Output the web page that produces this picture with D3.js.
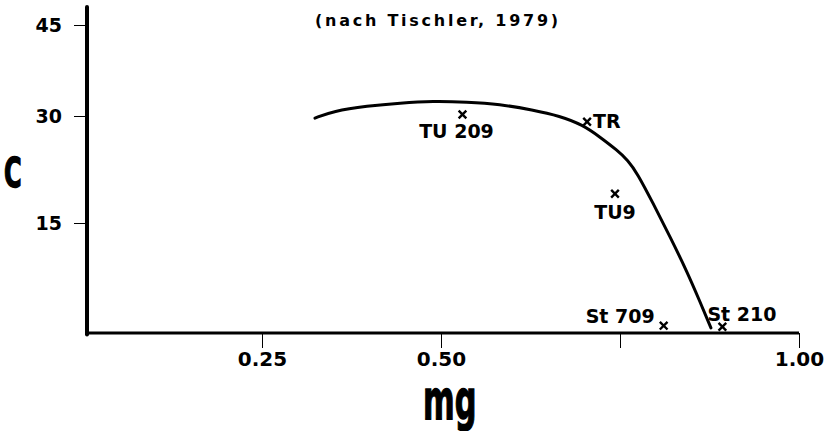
<!DOCTYPE html>
<html>
<head>
<meta charset="utf-8">
<script src="https://cdn.jsdelivr.net/npm/d3@7/dist/d3.min.js"></script>
<style>
  html, body { margin: 0; padding: 0; background: #fff; }
  svg { display: block; }
  text { font-family: "DejaVu Sans", "Liberation Sans", sans-serif; font-weight: bold; fill: #000; }
</style>
</head>
<body>
<svg width="829" height="431"></svg>
<script>
// curve (mg, C)
const curveMg = [0.324, 0.349, 0.397, 0.443, 0.489, 0.536, 0.582, 0.628, 0.666, 0.698, 0.722, 0.746, 0.761, 0.774, 0.796, 0.820, 0.844, 0.862, 0.877];
const curveC  = [29.7, 30.8, 31.65, 32.15, 32.45, 32.3, 31.95, 31.0, 30.0, 28.75, 27.05, 25.2, 23.8, 22.0, 17.8, 13.1, 8.3, 4.2, 0.7];

// measured samples
const sampleNames = ["TU 209", "TR", "TU9", "St 709", "St 210"];
const sampleMg    = [0.530, 0.704, 0.743, 0.811, 0.893];
const sampleC     = [30.25, 29.2, 19.1, 1.0, 0.85];

const xTicks = [0.25, 0.50, 0.75, 1.00];
const xTickLabels = ["0.25", "0.50", "", "1.00"];
const yTicks = [15, 30, 45];

const svg = d3.select("svg");
const axisX = 87;      // where the C axis stands
const axisTop = 7;

// the original axis is hand drawn, so the C scale is piecewise
const x = d3.scaleLinear().domain([0, 1]).range([83, 799]);
const y = d3.scaleLinear().domain([0, 15, 30, 45]).range([333, 223, 116, 25]);

// x axis
const gx = svg.append("g")
    .attr("transform", "translate(0," + y(0) + ")")
    .call(d3.axisBottom(x)
        .tickValues(xTicks)
        .tickFormat((d, i) => xTickLabels[i])
        .tickSize(15)
        .tickPadding(4));
gx.select(".domain").remove();
gx.attr("font-family", null).attr("font-size", null);
gx.selectAll(".tick line").attr("stroke", "#000").attr("stroke-width", 1);
gx.selectAll(".tick text").attr("font-size", 20);

// y axis
const gy = svg.append("g")
    .attr("transform", "translate(" + axisX + ",0)")
    .call(d3.axisLeft(y)
        .tickValues(yTicks)
        .tickSize(13)
        .tickPadding(12));
gy.select(".domain").remove();
gy.attr("font-family", null).attr("font-size", null);
gy.selectAll(".tick line").attr("stroke", "#000").attr("stroke-width", 1);
gy.selectAll(".tick text").attr("font-size", 19);

// axis lines, heavier than the ticks
svg.append("line")
    .attr("x1", axisX).attr("x2", x(1))
    .attr("y1", y(0)).attr("y2", y(0))
    .attr("stroke", "#000").attr("stroke-width", 3);
svg.append("line")
    .attr("x1", axisX).attr("x2", axisX)
    .attr("y1", axisTop).attr("y2", y(0) + 1.5)
    .attr("stroke", "#000").attr("stroke-width", 4)
    .attr("stroke-linecap", "round");

// curve
const line = d3.line()
    .x(d => x(d[0]))
    .y(d => y(d[1]))
    .curve(d3.curveBasis);
svg.append("path")
    .datum(curveMg.map((m, i) => [m, curveC[i]]))
    .attr("d", line)
    .attr("fill", "none")
    .attr("stroke", "#000")
    .attr("stroke-width", 3)
    .attr("stroke-linecap", "round");

// sample crosses + names
const place = {
    "TU 209": {dx: -6, dy: 24, anchor: "middle"},
    "TR":     {dx: 6, dy: 6, anchor: "start"},
    "TU9":    {dx: 0, dy: 25, anchor: "middle"},
    "St 709": {dx: -9, dy: -3, anchor: "end"},
    "St 210": {dx: -15, dy: -6, anchor: "start"}
};
const samples = sampleNames.map((n, i) => ({name: n, mg: sampleMg[i], c: sampleC[i]}));

const sg = svg.selectAll(".sample").data(samples).enter()
    .append("g")
    .attr("class", "sample")
    .attr("transform", d => "translate(" + x(d.mg) + "," + y(d.c) + ")");
sg.append("path")
    .attr("d", d3.symbol(d3.symbolTimes, 40))
    .attr("fill", "none")
    .attr("stroke", "#000")
    .attr("stroke-width", 2.4);
sg.append("text")
    .attr("x", d => place[d.name].dx)
    .attr("y", d => place[d.name].dy)
    .attr("text-anchor", d => place[d.name].anchor)
    .attr("font-size", 19)
    .text(d => d.name);

// title
svg.append("text")
    .attr("x", 315).attr("y", 26)
    .attr("font-size", 16)
    .attr("letter-spacing", 2.75)
    .text("(nach Tischler, 1979)");

// axis titles, tall and condensed
svg.append("text")
    .attr("transform", "translate(4,187) scale(0.6,1)")
    .attr("font-size", 40)
    .attr("font-family", "'Liberation Sans', sans-serif")
    .attr("stroke", "#000").attr("stroke-width", 1.5)
    .text("C");
svg.append("text")
    .attr("transform", "translate(423,419) scale(0.8,1.45)")
    .attr("font-size", 38)
    .attr("font-family", "'Liberation Sans', sans-serif")
    .attr("stroke", "#000").attr("stroke-width", 1)
    .text("mg");
</script>
</body>
</html>
